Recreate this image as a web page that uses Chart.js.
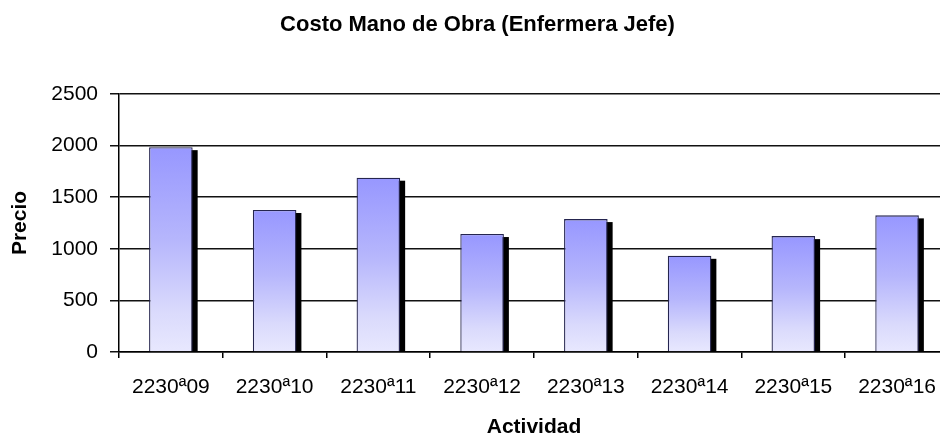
<!DOCTYPE html>
<html>
<head>
<meta charset="utf-8">
<title>Costo Mano de Obra (Enfermera Jefe)</title>
<script src="https://cdn.jsdelivr.net/npm/chart.js@4/dist/chart.umd.min.js"></script>
<style>
  html, body { margin: 0; padding: 0; background: #fff; overflow: hidden; }
  canvas { display: block; }
</style>
</head>
<body>
<canvas id="costChart" width="955" height="438" style="width:955px;height:438px"></canvas>
<script>
const categories = ['2230ª09', '2230ª10', '2230ª11', '2230ª12', '2230ª13', '2230ª14', '2230ª15', '2230ª16'];
const precios = [1985, 1376, 1689, 1143, 1288, 932, 1123, 1324];
const yTicks = [0, 500, 1000, 1500, 2000, 2500];

const FONT = "Arial, 'Liberation Sans', sans-serif";

// black drop shadow behind each bar, offset right and down
const barShadow = {
  id: 'barShadow',
  beforeDatasetsDraw(chart) {
    const ctx = chart.ctx;
    const area = chart.chartArea;
    const meta = chart.getDatasetMeta(0);
    ctx.save();
    ctx.beginPath();
    ctx.rect(area.left, area.top, area.right - area.left, area.bottom - area.top);
    ctx.clip();
    ctx.fillStyle = '#000';
    meta.data.forEach(bar => {
      const p = bar.getProps(['x', 'y', 'width', 'base'], true);
      ctx.fillRect(p.x - p.width / 2 + 5, p.y + 3, p.width, p.base - p.y - 3);
    });
    ctx.restore();
  }
};

function barGradient(context) {
  const chart = context.chart;
  const yScale = chart.scales.y;
  if (!chart.chartArea || !yScale || context.dataIndex === undefined) return '#9999ff';
  const top = yScale.getPixelForValue(context.raw);
  const base = yScale.getPixelForValue(0);
  if (!isFinite(top) || !isFinite(base) || top === base) return '#9999ff';
  const g = chart.ctx.createLinearGradient(0, top, 0, base);
  g.addColorStop(0, '#9797ff');
  g.addColorStop(0.45, '#b6b6fc');
  g.addColorStop(0.8, '#dadafc');
  g.addColorStop(1, '#e8e8fe');
  return g;
}

new Chart(document.getElementById('costChart'), {
  type: 'bar',
  data: {
    labels: categories,
    datasets: [{
      label: 'Precio',
      data: precios,
      backgroundColor: barGradient,
      borderColor: '#25254f',
      borderWidth: 1.3,
      categoryPercentage: 1,
      barPercentage: 0.42
    }]
  },
  options: {
    responsive: false,
    animation: false,
    layout: { padding: 0 },
    plugins: {
      legend: { display: false },
      tooltip: { enabled: false },
      title: {
        display: true,
        text: 'Costo Mano de Obra (Enfermera Jefe)',
        color: '#000',
        font: { family: FONT, size: 22, weight: 'bold', lineHeight: 1 },
        padding: { top: 14, bottom: 58 }
      }
    },
    scales: {
      x: {
        offset: true,
        afterFit(axis) { axis.height = 86; },
        grid: {
          offset: true,
          drawOnChartArea: false,
          drawTicks: true,
          tickLength: 6,
          color: '#000',
          lineWidth: 1.5
        },
        border: { display: true, color: '#000', width: 1.5 },
        ticks: {
          color: '#000',
          padding: 19,
          maxRotation: 0,
          autoSkip: false,
          font: { family: FONT, size: 21, lineHeight: 1 }
        },
        title: {
          display: true,
          text: 'Actividad',
          color: '#000',
          font: { family: FONT, size: 21, weight: 'bold', lineHeight: 1 },
          padding: { top: 21, bottom: 0 }
        }
      },
      y: {
        min: yTicks[0],
        max: yTicks[yTicks.length - 1],
        afterBuildTicks(axis) {
          axis.ticks = yTicks.map(v => ({ value: v }));
        },
        afterFit(axis) { axis.width = 119; },
        grid: {
          color: '#111',
          lineWidth: 1.5,
          tickLength: 9
        },
        border: { display: true, color: '#000', width: 1.5 },
        ticks: {
          color: '#000',
          padding: 12,
          font: { family: FONT, size: 21, lineHeight: 1 },
          callback: v => String(v)
        },
        title: {
          display: true,
          text: 'Precio',
          color: '#000',
          font: { family: FONT, size: 21, weight: 'bold', lineHeight: 1 },
          padding: { top: 10, bottom: 0 }
        }
      }
    }
  },
  plugins: [barShadow]
});
</script>
</body>
</html>
